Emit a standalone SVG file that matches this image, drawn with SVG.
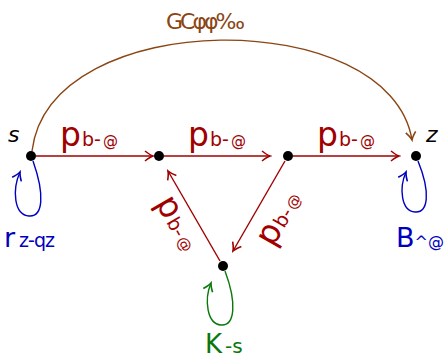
<svg xmlns="http://www.w3.org/2000/svg" width="446" height="359" viewBox="0 0 446 359">
<style>
text{font-family:"DejaVu Sans",sans-serif}
.red{fill:#a00000}
.blue{fill:#0000c0}
.green{fill:#0a780a}
.brown{fill:#8b4513}
.e{fill:none;stroke-width:1.4}
.er{stroke:#a00000}
.eb{stroke:#0000c0}
.eg{stroke:#0a780a}
.ebr{stroke:#8b4513}
.big{font-size:33px}
.mid{font-size:19px}
.sm{font-size:15px}
</style>
<defs>
<marker id="ar" viewBox="-10 -6 12 12" refX="0" refY="0" markerWidth="12" markerHeight="12" markerUnits="userSpaceOnUse" orient="auto"><path d="M-8,-5 Q-3,-1 0,0 Q-3,1 -8,5" fill="none" stroke="#a00000" stroke-width="1.6"/></marker>
<marker id="ab" viewBox="-10 -6 12 12" refX="0" refY="0" markerWidth="12" markerHeight="12" markerUnits="userSpaceOnUse" orient="auto"><path d="M-8,-5 Q-3,-1 0,0 Q-3,1 -8,5" fill="none" stroke="#0000c0" stroke-width="1.6"/></marker>
<marker id="ag" viewBox="-10 -6 12 12" refX="0" refY="0" markerWidth="12" markerHeight="12" markerUnits="userSpaceOnUse" orient="auto"><path d="M-8,-5 Q-3,-1 0,0 Q-3,1 -8,5" fill="none" stroke="#0a780a" stroke-width="1.6"/></marker>
<marker id="abr" viewBox="-10 -6 12 12" refX="0" refY="0" markerWidth="12" markerHeight="12" markerUnits="userSpaceOnUse" orient="auto"><path d="M-8,-5 Q-3,-1 0,0 Q-3,1 -8,5" fill="none" stroke="#8b4513" stroke-width="1.6"/></marker>
</defs>
<g id="connectors">
<path class="e ebr" d="M32,151 C50,5 390,5 412,140" marker-end="url(#abr)"/>
<path class="e er" d="M36,156 H153" marker-end="url(#ar)"/>
<path class="e er" d="M164,156 H270" marker-end="url(#ar)"/>
<path class="e er" d="M293,156 H399" marker-end="url(#ar)"/>
<path class="e er" d="M285,161 L233,251" marker-end="url(#ar)"/>
<path class="e er" d="M220,261 L168,171" marker-end="url(#ar)"/>
<path class="e eb" d="M33,161 C45,195 43,217 29,216 C14,215 12,190 20,172" marker-end="url(#ab)"/>
<path class="e eb" d="M418,161 C431,193 428,213 415,212 C401,211 399,188 406,172" marker-end="url(#ab)"/>
<path class="e eg" d="M225,271 C237,303 235,326 221,325 C207,324 204,300 211,283" marker-end="url(#ag)"/>
<text class="brown" x="166" y="29" font-size="22" letter-spacing="-3">GCφφ‰</text>
<text class="red" x="60" y="146"><tspan class="big">p</tspan><tspan class="mid" dx="1">b-</tspan><tspan class="sm" dx="2">@</tspan></text>
<text class="red" x="188" y="146"><tspan class="big">p</tspan><tspan class="mid" dx="1">b-</tspan><tspan class="sm" dx="2">@</tspan></text>
<text class="red" x="317" y="146"><tspan class="big">p</tspan><tspan class="mid" dx="1">b-</tspan><tspan class="sm" dx="2">@</tspan></text>
<text class="red" transform="translate(273,248) rotate(-60)"><tspan class="big">p</tspan><tspan class="mid" dx="1">b-</tspan><tspan class="sm" dx="2">@</tspan></text>
<text class="red" transform="translate(155,203) rotate(60)"><tspan class="big">p</tspan><tspan class="mid" dx="1">b-</tspan><tspan class="sm" dx="2">@</tspan></text>
</g>
<g id="s"><circle cx="31" cy="156" r="5"/><text x="8" y="142" font-size="22" font-style="italic">s</text>
<text class="blue" x="4" y="247"><tspan font-size="27">r</tspan><tspan font-size="19" dx="4" letter-spacing="-1">z-qz</tspan></text></g>
<g id="n2"><circle cx="159" cy="156" r="5"/></g>
<g id="n3"><circle cx="288" cy="156" r="5"/></g>
<g id="z"><circle cx="416" cy="156" r="5"/><text x="426" y="142" font-size="22" font-style="italic">z</text>
<text class="blue" x="396" y="247"><tspan font-size="27">B</tspan><tspan font-size="16">^@</tspan></text></g>
<g id="n5"><circle cx="223" cy="266" r="5"/>
<text class="green" x="205" y="353"><tspan font-size="26">K</tspan><tspan font-size="20" dx="3">-s</tspan></text></g>
</svg>
